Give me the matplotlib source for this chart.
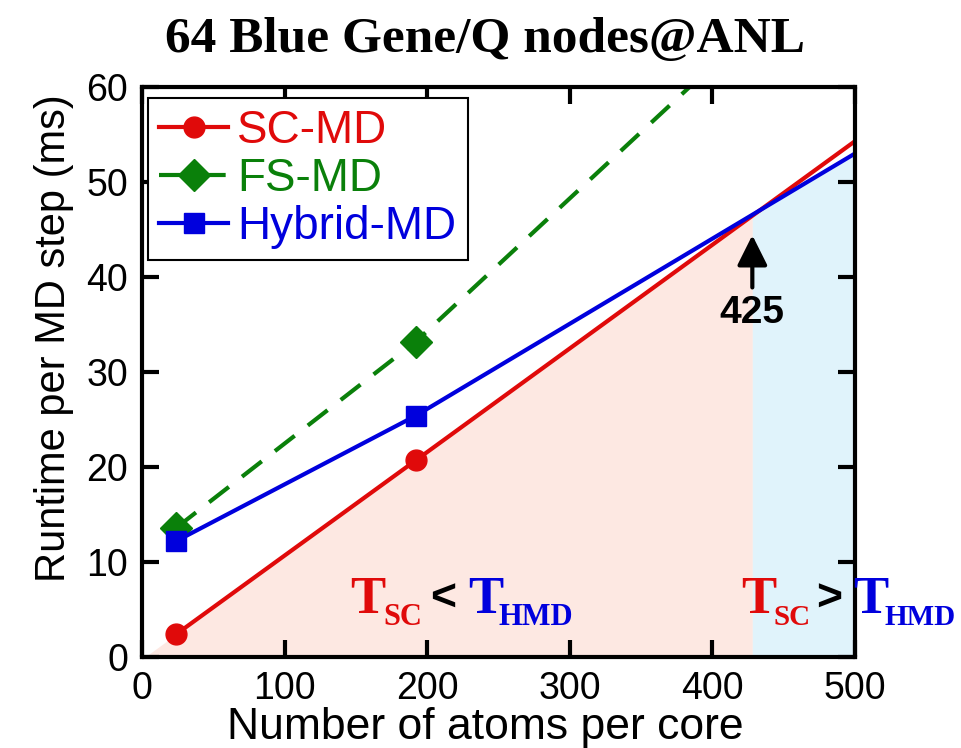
import numpy as np
import matplotlib
matplotlib.use("Agg")
import matplotlib.pyplot as plt

# data
sc_x = [24, 192, 500]
sc_y = [2.4, 20.7, 54.3]
fs_x = [24, 192, 500]
fs_y = [13.6, 33.2, 76.2]
hy_x = [24, 192, 500]
hy_y = [12.2, 25.4, 53.0]
cross_x = 428
cross_label = "425"

x_ticks = [0, 100, 200, 300, 400, 500]
y_ticks = [0, 10, 20, 30, 40, 50, 60]

RED = "#e00a0a"
GREEN = "#0a800a"
BLUE = "#0000dd"
SANS = "Liberation Sans"
SERIF = "Liberation Serif"

fig = plt.figure(figsize=(9.62, 7.48), dpi=100)
ax = fig.add_axes([142 / 962, 1 - 657 / 748, 713 / 962, 570 / 748])

# shaded regions: under SC-MD up to the crossover, under Hybrid-MD after it
sc_fit = np.polyfit(sc_x, sc_y, 1)
xs_left = np.linspace(0, cross_x, 50)
ax.fill_between(xs_left, 0, np.polyval(sc_fit, xs_left), color="#fde8e2", lw=0, zorder=0)
xs_right = np.linspace(cross_x, 500, 50)
ax.fill_between(xs_right, 0, np.interp(xs_right, hy_x, hy_y), color="#e0f3fb", lw=0, zorder=0)

ax.plot(sc_x, sc_y, color=RED, lw=3, marker="o", ms=15, markevery=[0, 1], label="SC-MD")
ax.plot(fs_x, fs_y, color=GREEN, lw=3, ls=(0, (6, 4)), marker="D", ms=16,
        markevery=[0, 1], label="FS-MD")
ax.plot(hy_x, hy_y, color=BLUE, lw=3, marker="s", ms=15, markevery=[0, 1], label="Hybrid-MD")

ax.set_xlim(0, 500)
ax.set_ylim(0, 60)
ax.set_xticks(x_ticks)
ax.set_yticks(y_ticks)
ax.tick_params(direction="in", top=True, right=True, length=12, width=3,
               labelsize=27, pad=10)
for lab in ax.get_xticklabels() + ax.get_yticklabels():
    lab.set_family(SANS)
for sp in ax.spines.values():
    sp.set_linewidth(3)

ax.set_xlabel("Number of atoms per core", family=SANS, fontsize=32)
ax.set_ylabel("Runtime per MD step (ms)", family=SANS, fontsize=30)
ax.xaxis.set_label_coords(0.482, -0.088)
ax.yaxis.set_label_coords(-0.095, 0.56)

leg = ax.legend(loc="upper left", bbox_to_anchor=(0.008, 0.981), borderaxespad=0,
                prop={"family": SANS, "size": 33}, fancybox=False, framealpha=1,
                edgecolor="black", handlelength=1.5, handletextpad=0.2,
                labelspacing=0.08, borderpad=0.25)
leg.get_frame().set_linewidth(1.5)
for txt, c in zip(leg.get_texts(), [RED, GREEN, BLUE]):
    txt.set_color(c)

# crossover arrow
ax.annotate("", xy=(cross_x, 44.4), xytext=(cross_x, 38.9),
            arrowprops=dict(arrowstyle="-|>", lw=3, mutation_scale=46, color="black",
                            shrinkA=0, shrinkB=0))
ax.text(cross_x, 36.2, cross_label, ha="center", va="center", family=SANS,
        fontweight="bold", fontsize=28)

# T_SC < T_HMD  and  T_SC > T_HMD
def region_label(x0, sign, xs, sub_size=22):
    ax.text(x0, 4.6, "T", color=RED, family=SERIF, fontweight="bold", fontsize=38)
    ax.text(xs[0], 3.4, "SC", color=RED, family=SERIF, fontweight="bold", fontsize=sub_size)
    ax.text(xs[1], 6.1, sign, color="black", family=SANS, fontweight="bold",
            fontsize=32, va="center")
    ax.text(xs[2], 4.6, "T", color=BLUE, family=SERIF, fontweight="bold", fontsize=38)
    ax.text(xs[3], 3.4, "HMD", color=BLUE, family=SERIF, fontweight="bold", fontsize=sub_size)

region_label(146, "<", [169, 202, 229, 250])
region_label(420, ">", [443, 473, 499, 521], sub_size=21)

fig.text(0.504, 1 - 40 / 748, "64 Blue Gene/Q nodes@ANL", ha="center", va="center",
         family=SERIF, fontweight="bold", fontsize=37)

fig.savefig("out.png", dpi=100)
